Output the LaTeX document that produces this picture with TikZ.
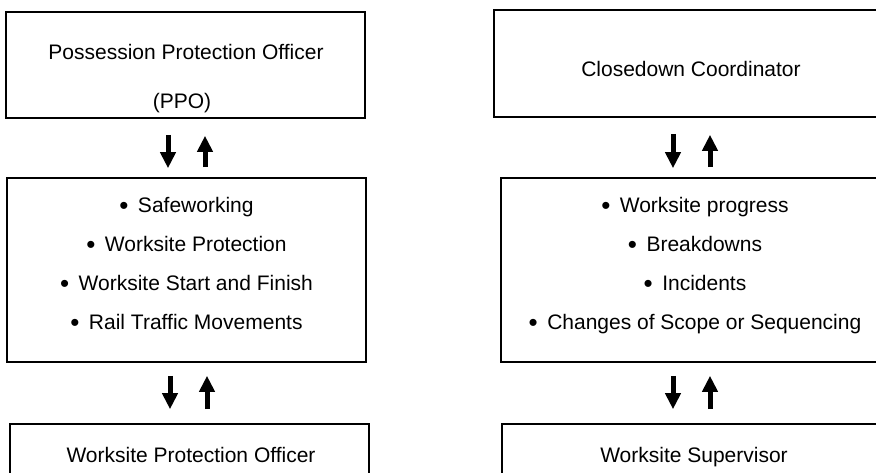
\documentclass[tikz,border=0pt]{standalone}
\usepackage{fontspec}
\setmainfont{Liberation Sans}
\usetikzlibrary{arrows.meta}

\newcommand{\bigbullet}{\raisebox{-1.6pt}{\fontsize{26}{26}\selectfont\textbullet}}

\begin{document}
\begin{tikzpicture}[x=1pt,y=-1pt]
  \tikzset{box/.style = {shape=rectangle,draw,line width=1.6pt,inner sep=0pt}}
  \tikzset{narrowbox/.style = {box,minimum width=359pt}}
  \tikzset{widebox/.style = {box,minimum width=388pt}}
  \tikzset{txt/.style = {anchor=base,inner sep=0pt,font=\fontsize{21}{25}\selectfont}}
  \tikzset{flow/.style = {line width=5pt,-{Triangle[width=15pt,length=16pt]}}}

  \useasboundingbox (0,0) rectangle (876,473);
  \clip (0,0) rectangle (876,473);

  % boxes
  \node[narrowbox,minimum height=106pt] (PPO) at (185.5,65) {};
  \node[widebox,minimum height=107pt] (CC) at (688,63.5) {};
  \node[narrowbox,minimum height=184pt] (PT) at (186.5,270) {};
  \node[widebox,minimum height=184pt] (CT) at (695,270) {};
  \node[narrowbox,minimum height=100pt] (WPO) at (189.5,474) {};
  \node[widebox,minimum height=100pt] (WS) at (696,474) {};

  % texts
  \node[txt] (PPOa) at (186,60) {Possession Protection Officer};
  \node[txt] (PPOb) at (182,109) {(PPO)};
  \node[txt] (CCa) at (691,77) {Closedown Coordinator};
  \foreach \y/\t [count=\i] in {212.5/Safeworking, 251.5/Worksite Protection, 290.5/Worksite Start and Finish, 329.5/Rail Traffic Movements}
    \node[txt] (PT\i) at (186.5,\y) {\bigbullet\hspace{0.45em}\t};
  \foreach \y/\t [count=\i] in {212.5/Worksite progress, 251.5/Breakdowns, 290.5/Incidents, 329.5/Changes of Scope or Sequencing}
    \node[txt] (CT\i) at (695,\y) {\bigbullet\hspace{0.45em}\t};
  \node[txt] (WPOa) at (191,462) {Worksite Protection Officer};
  \node[txt] (WSa) at (694,462) {Worksite Supervisor};

  % arrows
  \foreach \from/\to/\dx/\a/\b in {PPO/PT/-17.5/16/9, CC/CT/-15/16/9, PT/WPO/-16.5/13/14, CT/WS/-22/13/14}
    \draw[flow,shorten <=\a pt,shorten >=\b pt] ([xshift=\dx pt]\from.south) -- ([xshift=\dx pt]\from.south |- \to.north);
  \foreach \from/\to/\dx/\a/\b in {PT/PPO/19.5/10/17, CT/CC/22/10/17, WPO/PT/20.5/14/13, WS/CT/15/14/13}
    \draw[flow,shorten <=\a pt,shorten >=\b pt] ([xshift=\dx pt]\to.south |- \from.north) -- ([xshift=\dx pt]\to.south);

\end{tikzpicture}
\end{document}
